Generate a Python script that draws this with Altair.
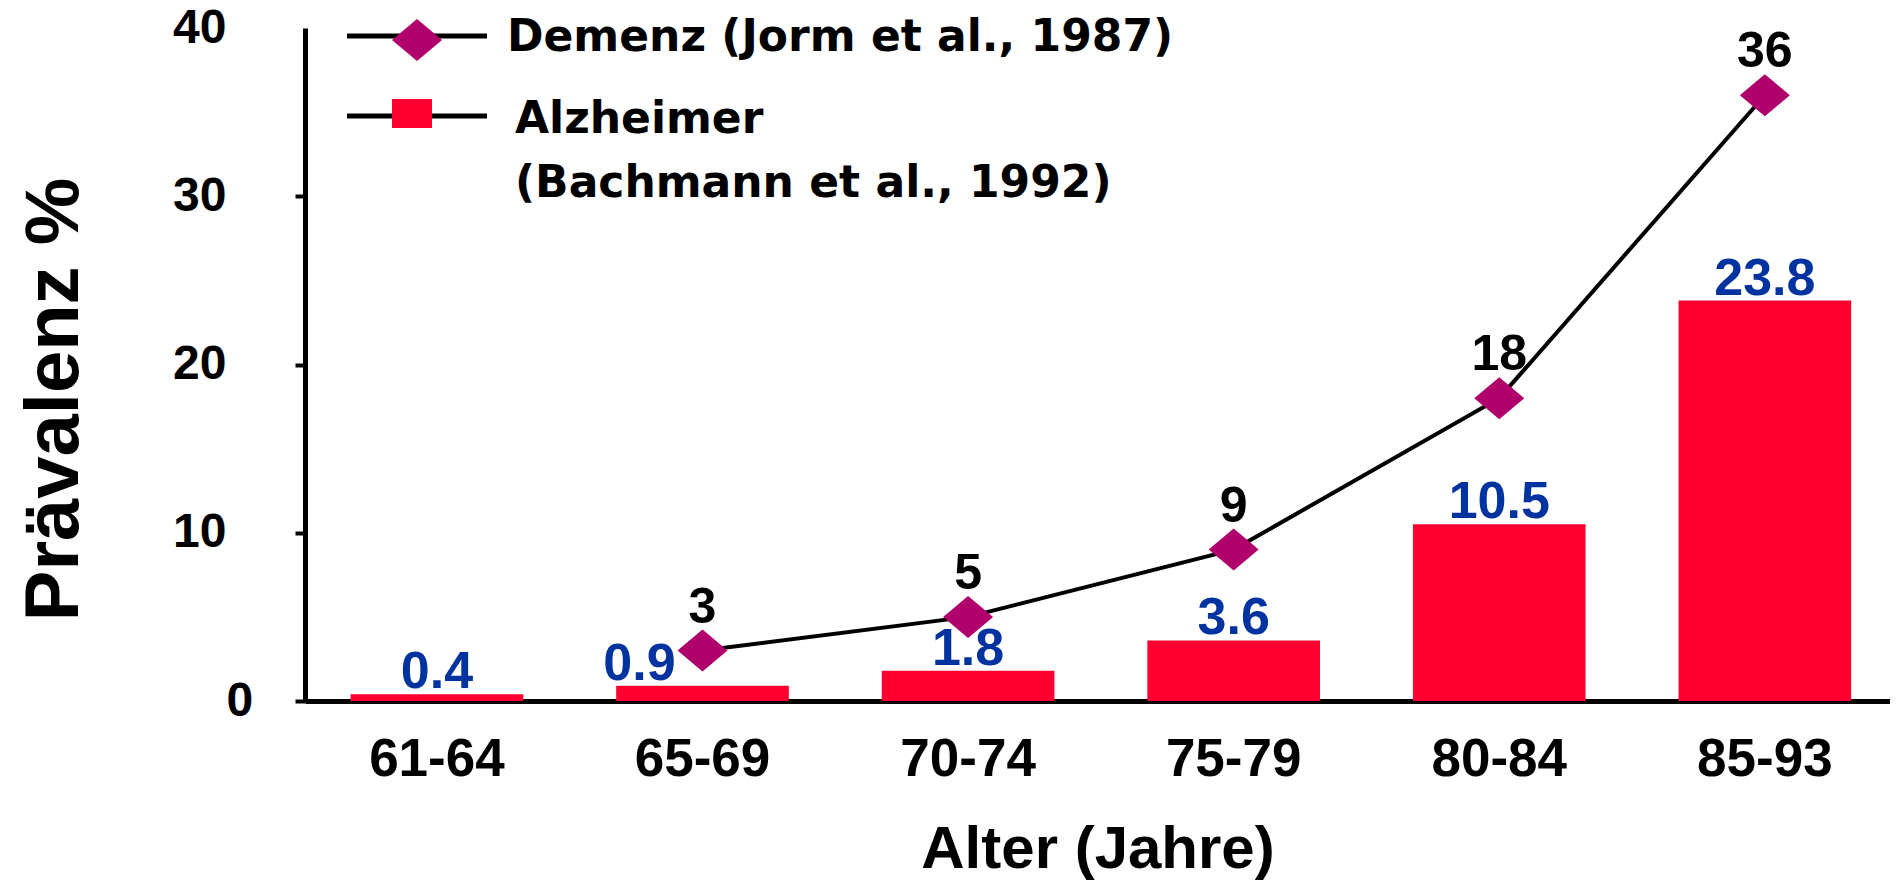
import altair as alt
import pandas as pd

# ---- data ----
ages = ["61-64", "65-69", "70-74", "75-79", "80-84", "85-93"]
alzheimer = [0.4, 0.9, 1.8, 3.6, 10.5, 23.8]
demenz = [None, 3, 5, 9, 18, 36]
y_ticks = [0, 10, 20, 30, 40]
legend_labels = ["Demenz (Jorm et al., 1987)", "Alzheimer", "(Bachmann et al., 1992)"]

df = pd.DataFrame({"age": ages, "alz": alzheimer, "dem": demenz})

FONT = "Liberation Sans, Arial, sans-serif"
LEGFONT = "DejaVu Sans, Liberation Sans, sans-serif"
RED = "#ff0030"
BLUE = "#0033a0"
PURPLE = "#b0006b"
DIAMOND = "M-1,0L0,-0.84L1,0L0,0.84Z"
RECT = "M-1,-0.725L1,-0.725L1,0.725L-1,0.725Z"

x_enc = alt.X(
    "age:N", sort=ages,
    scale=alt.Scale(paddingInner=0.35, paddingOuter=0.159, align=0.54),
    axis=alt.Axis(
        title="Alter (Jahre)", labelAngle=0, ticks=False, tickSize=0,
        labelPadding=32, labelFont=FONT, labelFontSize=53, labelFontWeight="bold",
        labelColor="black", domainColor="black", domainWidth=5,
        titleFont=FONT, titleFontSize=60, titleFontWeight="bold", titleColor="black",
        titleBaseline="alphabetic", titleY=166,
    ),
)

y_axis = alt.Axis(
    title="Prävalenz %", values=y_ticks, grid=False,
    tickSize=10, tickWidth=4, tickColor="black",
    tickOpacity={"condition": {"test": "datum.value == 40", "value": 0}, "value": 1},
    labelAlign={"condition": {"test": "datum.value == 0", "value": "left"}, "value": "right"},
    labelPadding=69, labelFont=FONT, labelFontSize=48, labelFontWeight="bold", labelColor="black",
    domainColor="black", domainWidth=5,
    titleFont=FONT, titleFontSize=76, titleFontWeight="bold", titleColor="black",
    titleAngle=270, titleBaseline="alphabetic", titleX=-228, titleY=371,
)
y_scale = alt.Scale(domain=[0, 40], nice=False, zero=True)

base = alt.Chart(df)

bars = base.mark_bar(color=RED).encode(
    x=x_enc, y=alt.Y("alz:Q", scale=y_scale, axis=y_axis)
)

bar_text_kw = dict(font=FONT, fontSize=52, fontWeight="bold", color=BLUE,
                   baseline="alphabetic", dy=-6)
bar_labels = base.mark_text(**bar_text_kw).encode(
    x=x_enc, y=alt.Y("alz:Q", scale=y_scale, axis=y_axis),
    text=alt.Text("alz:Q", format=".1f"),
).transform_filter("datum.age != '65-69'")
bar_label_shift = base.mark_text(dx=-63, **bar_text_kw).encode(
    x=x_enc, y=alt.Y("alz:Q", scale=y_scale, axis=y_axis),
    text=alt.Text("alz:Q", format=".1f"),
).transform_filter("datum.age == '65-69'")

dem_base = base.transform_filter("isValid(datum.dem)")
line = dem_base.mark_line(color="black", strokeWidth=4).encode(
    x=x_enc, y=alt.Y("dem:Q", scale=y_scale, axis=y_axis)
)
points = dem_base.mark_point(shape=DIAMOND, filled=True, size=2500, color=PURPLE,
                             opacity=1, strokeWidth=0).encode(
    x=x_enc, y=alt.Y("dem:Q", scale=y_scale, axis=y_axis)
)
dem_labels = dem_base.mark_text(font=FONT, fontSize=50, fontWeight="bold", color="black",
                                baseline="alphabetic", dy=-28).encode(
    x=x_enc, y=alt.Y("dem:Q", scale=y_scale, axis=y_axis),
    text=alt.Text("dem:Q", format="d"),
)

# ---- hand-built legend ----
one = pd.DataFrame({"k": [0]})
leg = alt.Chart(one)
leg_rule1 = leg.mark_rule(color="black", strokeWidth=5).encode(
    x=alt.value(42), x2=alt.value(182), y=alt.value(8))
leg_rule2 = leg.mark_rule(color="black", strokeWidth=5).encode(
    x=alt.value(42), x2=alt.value(182), y=alt.value(88))
leg_diamond = leg.mark_point(shape=DIAMOND, filled=True, size=2500, color=PURPLE,
                             opacity=1, strokeWidth=0).encode(
    x=alt.value(112), y=alt.value(12))
leg_rect = leg.mark_point(shape=RECT, filled=True, size=1600, color=RED,
                          opacity=1, strokeWidth=0).encode(
    x=alt.value(107), y=alt.value(85.5))
leg_kw = dict(font=LEGFONT, fontSize=44, fontWeight="bold", color="black",
              align="left", baseline="alphabetic")
leg_t1 = leg.mark_text(**leg_kw).encode(x=alt.value(202), y=alt.value(23),
                                         text=alt.value(legend_labels[0]))
leg_t2 = leg.mark_text(**leg_kw).encode(x=alt.value(210), y=alt.value(105),
                                         text=alt.value(legend_labels[1]))
leg_t3 = leg.mark_text(**leg_kw).encode(x=alt.value(210), y=alt.value(169),
                                         text=alt.value(legend_labels[2]))

chart = alt.layer(
    bars, bar_labels, bar_label_shift, line, points, dem_labels,
    leg_rule1, leg_rule2, leg_diamond, leg_rect, leg_t1, leg_t2, leg_t3,
).properties(
    width=1585, height=673,
    padding={"left": 297, "top": 20, "right": 0, "bottom": 180},
    autosize=alt.AutoSizeParams(type="none"),
    background="white",
).configure_view(stroke=None)

chart.save("out.html", embed_options={"renderer": "svg", "actions": False})
